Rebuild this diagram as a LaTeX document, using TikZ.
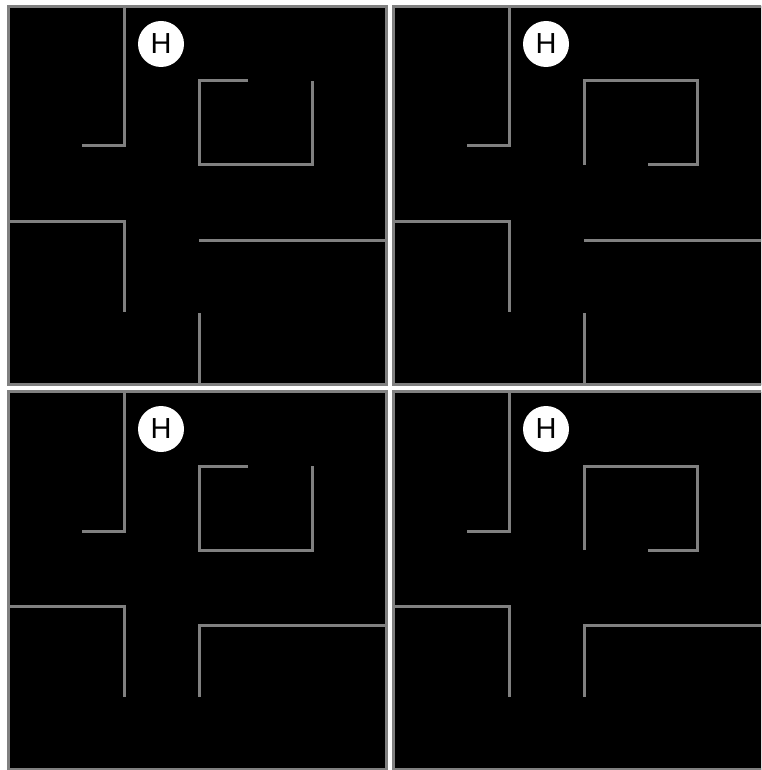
\documentclass[tikz,border=0pt]{standalone}
\usepackage{fontspec}
\setsansfont{Liberation Sans}
\usetikzlibrary{positioning}
\definecolor{wallgray}{RGB}{128,128,128}

\begin{document}
\begin{tikzpicture}[x=1pt,y=-1pt,
  panel/.style={draw=wallgray,line width=3.4pt,fill=black},
  wall/.style={draw=wallgray,line width=3pt},
  home/.style={circle,fill=white,text=black,minimum size=46pt,inner sep=0pt,
    font=\fontsize{29}{29}\selectfont\sffamily}]
\useasboundingbox (0,0) rectangle (761,770);
\fill[white] (0,0) rectangle (761,770);
\clip (0,0) rectangle (761,770);
\foreach \n/\dx/\dy in {1/0/0,2/385/0,3/0/385,4/385/385}{
  \begin{scope}[shift={(8.5+\dx,6.5+\dy)}]
    \draw[panel] (0,0) rectangle (378,378);
    \node[home] (h\n) at (152.5,37.5) {H};
    \draw[wall] (115.5,0) -- (115.5,139.5) -- (73.5,139.5);
    \draw[wall] (0,214.5) -- (115.5,214.5) -- (115.5,305.5);
  \end{scope}
}
\foreach \dy in {0,385}{
  \begin{scope}[shift={(8.5,6.5+\dy)}]
    \draw[wall] (239.5,74.5) -- (190.5,74.5) -- (190.5,158.5) -- (303.5,158.5) -- (303.5,74.5);
  \end{scope}
  \begin{scope}[shift={(393.5,6.5+\dy)}]
    \draw[wall] (190.5,158.5) -- (190.5,74.5) -- (303.5,74.5) -- (303.5,158.5) -- (254.5,158.5);
  \end{scope}
}
\foreach \dx in {0,385}{
  \begin{scope}[shift={(8.5+\dx,6.5)}]
    \draw[wall] (190.5,233.5) -- (378,233.5);
    \draw[wall] (190.5,306.5) -- (190.5,378);
  \end{scope}
  \begin{scope}[shift={(8.5+\dx,391.5)}]
    \draw[wall] (378,233.5) -- (190.5,233.5) -- (190.5,305.5);
  \end{scope}
}
\end{tikzpicture}
\end{document}
